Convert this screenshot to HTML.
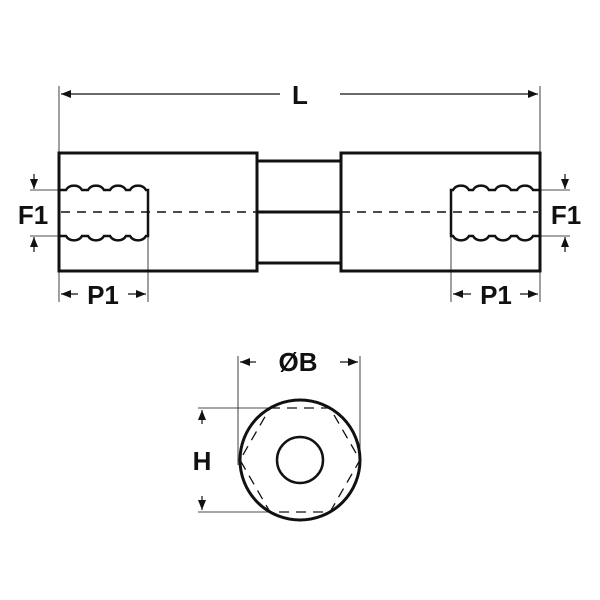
<!DOCTYPE html>
<html><head><style>body{margin:0;background:#fff}svg{display:block}text{font-family:"Liberation Sans",sans-serif;font-weight:bold;fill:#111}</style></head>
<body>
<svg width="600" height="600" viewBox="0 0 600 600">
<defs>
<marker id="a" markerWidth="10" markerHeight="8" refX="10" refY="4" orient="auto" markerUnits="userSpaceOnUse"><path d="M0,0L10,4L0,8z" fill="#111"/></marker>
</defs>
<g stroke="#111" fill="none">
<!-- main body -->
<rect x="59" y="153" width="198" height="118" stroke-width="3"/>
<rect x="341" y="153" width="199" height="118" stroke-width="3"/>
<line x1="257" y1="161" x2="341" y2="161" stroke-width="3"/>
<line x1="257" y1="263" x2="341" y2="263" stroke-width="3"/>
<line x1="257" y1="212" x2="341" y2="212" stroke-width="3"/>
<line x1="61" y1="212" x2="257" y2="212" stroke-width="1.5" stroke-dasharray="9,7"/>
<line x1="341" y1="212" x2="538" y2="212" stroke-width="1.5" stroke-dasharray="9,7"/>
<!-- threads left -->
<path d="M60,190 h6 a9,8 0 0 1 16,0 h6 a9,8 0 0 1 16,0 h6 a9,8 0 0 1 16,0 h4 a9,8 0 0 1 16,0 h2 v46 h-2 a9,8 0 0 1 -16,0 h-4 a9,8 0 0 1 -16,0 h-6 a9,8 0 0 1 -16,0 h-6 a9,8 0 0 1 -16,0 h-6" stroke-width="2.5"/>
<path d="M539,190 h-6 a9,8 0 0 0 -16,0 h-6 a9,8 0 0 0 -16,0 h-6 a9,8 0 0 0 -16,0 h-4 a9,8 0 0 0 -16,0 h-2 v46 h2 a9,8 0 0 0 16,0 h4 a9,8 0 0 0 16,0 h6 a9,8 0 0 0 16,0 h6 a9,8 0 0 0 16,0 h6" stroke-width="2.5"/>
<!-- dims thin -->
<g stroke-width="0.8">
<line x1="59" y1="86" x2="59" y2="153"/><line x1="540" y1="86" x2="540" y2="153"/>
<line x1="30" y1="190" x2="59" y2="190"/><line x1="30" y1="236" x2="59" y2="236"/>
<line x1="540" y1="190" x2="570" y2="190"/><line x1="540" y1="236" x2="570" y2="236"/>
<line x1="59" y1="271" x2="59" y2="302"/><line x1="148" y1="236" x2="148" y2="302"/>
<line x1="540" y1="271" x2="540" y2="302"/><line x1="451" y1="236" x2="451" y2="302"/>
<line x1="238" y1="356" x2="238" y2="465"/><line x1="360" y1="356" x2="360" y2="465"/>
<line x1="198" y1="408" x2="268" y2="408"/><line x1="198" y1="512" x2="268" y2="512"/>
</g>
<g stroke-width="1.2" marker-end="url(#a)">
<line x1="280" y1="94" x2="61" y2="94"/><line x1="340" y1="94" x2="538" y2="94"/>
<line x1="34" y1="174" x2="34" y2="189"/><line x1="34" y1="252" x2="34" y2="237"/>
<line x1="565" y1="174" x2="565" y2="189"/><line x1="565" y1="252" x2="565" y2="237"/>
<line x1="78" y1="294" x2="61" y2="294"/><line x1="128" y1="294" x2="146" y2="294"/>
<line x1="471" y1="294" x2="453" y2="294"/><line x1="520" y1="294" x2="538" y2="294"/>
<line x1="256" y1="362" x2="240" y2="362"/><line x1="340" y1="362" x2="358" y2="362"/>
<line x1="202" y1="424" x2="202" y2="410"/><line x1="202" y1="496" x2="202" y2="510"/>
</g>
<!-- end view -->
<circle cx="300" cy="460" r="60" stroke-width="3"/>
<circle cx="300" cy="460" r="23" stroke-width="2.5"/>
<polygon points="270,408 330,408 360,460 330,512 270,512 240,460" stroke-width="1.3" stroke-dasharray="10,7"/>
</g>
<g font-size="26">
<text x="300" y="104" text-anchor="middle">L</text>
<text x="33" y="224" text-anchor="middle">F1</text>
<text x="566" y="224" text-anchor="middle">F1</text>
<text x="103" y="304" text-anchor="middle">P1</text>
<text x="496" y="304" text-anchor="middle">P1</text>
<text x="298" y="371" text-anchor="middle">ØB</text>
<text x="202" y="470" text-anchor="middle">H</text>
</g>
</svg>
</body></html>
